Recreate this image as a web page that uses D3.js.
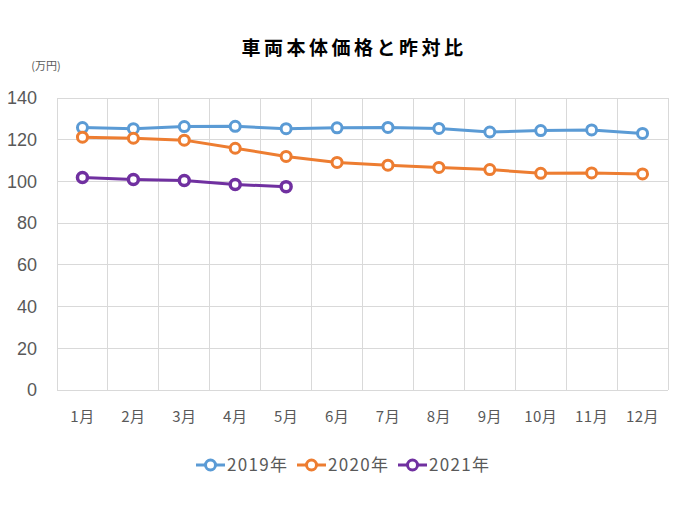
<!DOCTYPE html>
<html><head><meta charset="utf-8">
<script src="https://cdn.jsdelivr.net/npm/d3@7"></script>
<style>body{margin:0;background:#fff}svg{display:block}</style>
</head><body>
<svg id="c" width="680" height="510"></svg>
<script>
const months = ["1月","2月","3月","4月","5月","6月","7月","8月","9月","10月","11月","12月"];
const y2019 = [125.8,125.3,126.3,126.4,125.3,125.7,125.9,125.4,123.7,124.4,124.7,123.0];
const y2020 = [121.2,120.7,119.8,115.9,112.0,109.1,107.8,106.7,105.7,103.9,104.1,103.6];
const y2021 = [101.9,100.9,100.4,98.5,97.5];
const seriesNames = ["2019年","2020年","2021年"];
const seriesColors = ["#5B9BD5","#ED7D31","#7030A0"];
const yTicks = [0,20,40,60,80,100,120,140];

const series = [y2019,y2020,y2021].map((v,i)=>({name:seriesNames[i],color:seriesColors[i],values:v}));
const svg = d3.select("#c");
const L=57,R=668,T=98,B=390;
const x = d3.scaleBand().domain(months).range([L,R]).padding(0);
const y = d3.scaleLinear().domain([0,140]).range([B,T]);
const font = "'Liberation Sans','Noto Sans CJK JP',sans-serif";
const cjk = "'Noto Sans CJK JP',sans-serif";

// gridlines
const g = svg.append("g");
g.selectAll("line.h").data(yTicks).join("line")
  .attr("x1",L).attr("x2",R).attr("y1",d=>y(d)).attr("y2",d=>y(d))
  .attr("stroke","#d9d9d9").attr("stroke-width",1).attr("shape-rendering","crispEdges");
const vx = months.map(m=>x(m)).concat([R]);
g.selectAll("line.v").data(vx).join("line")
  .attr("x1",d=>d).attr("x2",d=>d).attr("y1",T).attr("y2",B)
  .attr("stroke","#d9d9d9").attr("stroke-width",1).attr("shape-rendering","crispEdges");

// y axis labels
const yAxis = d3.axisLeft(y).tickValues(yTicks).tickSize(0).tickPadding(0);
const ya = svg.append("g").attr("transform","translate(37,0)").call(yAxis);
ya.select(".domain").remove();
ya.selectAll("text").attr("font-family",font).attr("font-size",18).attr("fill","#595959");

// x axis labels
const xAxis = d3.axisBottom(x).tickSize(0).tickPadding(0);
const xa = svg.append("g").attr("transform","translate(0,413)").call(xAxis);
xa.select(".domain").remove();
xa.selectAll("text").attr("font-family",cjk).attr("font-size",15).attr("letter-spacing","0.5px").attr("fill","#595959").attr("dy","0.6em");

// lines
const line = d3.line().x((d,i)=>x(months[i])+x.bandwidth()/2).y(d=>y(d));
series.forEach(s=>{
  svg.append("path").datum(s.values).attr("d",line).attr("fill","none")
    .attr("stroke",s.color).attr("stroke-width",3).attr("stroke-linejoin","round");
  svg.append("g").selectAll("circle").data(s.values).join("circle")
    .attr("cx",(d,i)=>x(months[i])+x.bandwidth()/2).attr("cy",d=>y(d)).attr("r",5)
    .attr("fill","#fff").attr("stroke",s.color).attr("stroke-width",s.name==="2021年"?3.5:3);
});

// title
svg.append("text").attr("x",354).attr("y",55).attr("text-anchor","middle")
  .attr("font-family",cjk).attr("font-weight","bold").attr("font-size",19)
  .attr("letter-spacing","3.5px").attr("fill","#000").text("車両本体価格と昨対比");
svg.append("text").attr("x",46).attr("y",70).attr("text-anchor","middle")
  .attr("font-family",cjk).attr("font-size",11).attr("fill","#595959").text("(万円)");

// legend
const legX = [196,297,398];
series.forEach((s,i)=>{
  const lg = svg.append("g").attr("transform",`translate(${legX[i]},465)`);
  lg.append("line").attr("x1",0).attr("x2",29).attr("y1",0).attr("y2",0).attr("stroke",s.color).attr("stroke-width",3);
  lg.append("circle").attr("cx",14.5).attr("cy",0).attr("r",5).attr("fill","#fff").attr("stroke",s.color).attr("stroke-width",3);
  lg.append("text").attr("x",31).attr("y",0).attr("dy","0.36em").attr("font-family",cjk)
    .attr("font-size",17).attr("letter-spacing","1.3px").attr("fill","#595959").text(s.name);
});
</script>
</body></html>
